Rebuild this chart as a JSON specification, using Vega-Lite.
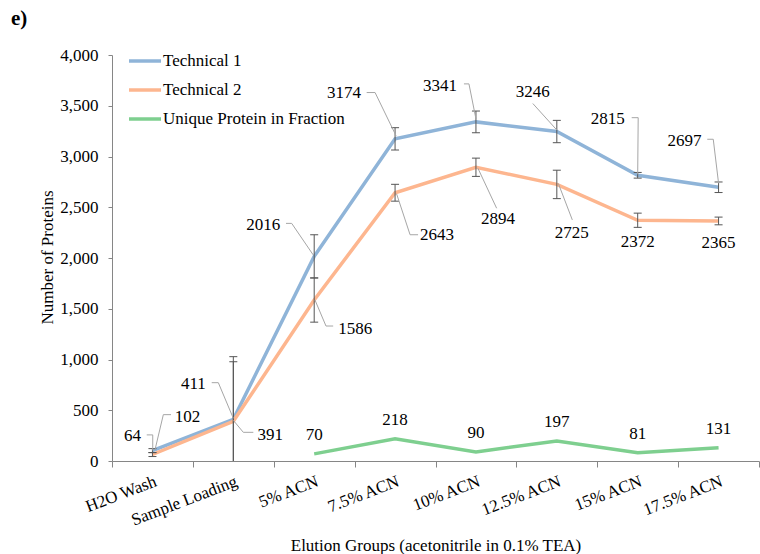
{
  "$schema": "https://vega.github.io/schema/vega-lite/v6.json",
  "width": 647,
  "height": 406,
  "autosize": "none",
  "padding": {"left": 112, "top": 55, "right": 1, "bottom": 93},
  "background": "white",
  "title": {"text": "e)", "anchor": "start", "frame": "group", "dx": -101, "dy": 30, "offset": 27, "baseline": "alphabetic", "fontSize": 21, "fontWeight": "bold", "font": "Liberation Serif", "color": "#000"},
  "config": {
    "font": "Liberation Serif",
    "view": {"stroke": null},
    "axis": {"labelFont": "Liberation Serif", "titleFont": "Liberation Serif"},
    "text": {"font": "Liberation Serif", "fontSize": 17, "baseline": "middle", "align": "center", "color": "#000"},
    "legend": {"orient": "none", "legendX": 15, "legendY": -12, "symbolType": "stroke", "symbolSize": 1024, "symbolStrokeWidth": 3.5, "labelFontSize": 17, "labelFont": "Liberation Serif", "labelColor": "#000", "labelOffset": 0, "rowPadding": 3, "labelLimit": 400}
  },
  "data": {"values": [
    {"id": "a0", "i": 0, "g": "H2O Wash", "s": "Technical 1", "v": 102, "lo": 82, "hi": 122},
    {"id": "a1", "i": 1, "g": "Sample Loading", "s": "Technical 1", "v": 411, "lo": -206, "hi": 1028},
    {"id": "a2", "i": 2, "g": "5% ACN", "s": "Technical 1", "v": 2016, "lo": 1803, "hi": 2229},
    {"id": "a3", "i": 3, "g": "7.5% ACN", "s": "Technical 1", "v": 3174, "lo": 3064, "hi": 3284},
    {"id": "a4", "i": 4, "g": "10% ACN", "s": "Technical 1", "v": 3341, "lo": 3234, "hi": 3448},
    {"id": "a5", "i": 5, "g": "12.5% ACN", "s": "Technical 1", "v": 3246, "lo": 3136, "hi": 3356},
    {"id": "a6", "i": 6, "g": "15% ACN", "s": "Technical 1", "v": 2815, "lo": 2787, "hi": 2843},
    {"id": "a7", "i": 7, "g": "17.5% ACN", "s": "Technical 1", "v": 2697, "lo": 2645, "hi": 2749},
    {"id": "b0", "i": 0, "g": "H2O Wash", "s": "Technical 2", "v": 64, "lo": 44, "hi": 84},
    {"id": "b1", "i": 1, "g": "Sample Loading", "s": "Technical 2", "v": 391, "lo": -196, "hi": 978},
    {"id": "b2", "i": 2, "g": "5% ACN", "s": "Technical 2", "v": 1586, "lo": 1368, "hi": 1804},
    {"id": "b3", "i": 3, "g": "7.5% ACN", "s": "Technical 2", "v": 2643, "lo": 2560, "hi": 2726},
    {"id": "b4", "i": 4, "g": "10% ACN", "s": "Technical 2", "v": 2894, "lo": 2804, "hi": 2984},
    {"id": "b5", "i": 5, "g": "12.5% ACN", "s": "Technical 2", "v": 2725, "lo": 2585, "hi": 2865},
    {"id": "b6", "i": 6, "g": "15% ACN", "s": "Technical 2", "v": 2372, "lo": 2302, "hi": 2442},
    {"id": "b7", "i": 7, "g": "17.5% ACN", "s": "Technical 2", "v": 2365, "lo": 2327, "hi": 2403},
    {"id": "c2", "i": 2, "g": "5% ACN", "s": "Unique Protein in Fraction", "v": 70},
    {"id": "c3", "i": 3, "g": "7.5% ACN", "s": "Unique Protein in Fraction", "v": 218},
    {"id": "c4", "i": 4, "g": "10% ACN", "s": "Unique Protein in Fraction", "v": 90},
    {"id": "c5", "i": 5, "g": "12.5% ACN", "s": "Unique Protein in Fraction", "v": 197},
    {"id": "c6", "i": 6, "g": "15% ACN", "s": "Unique Protein in Fraction", "v": 81},
    {"id": "c7", "i": 7, "g": "17.5% ACN", "s": "Unique Protein in Fraction", "v": 131}
  ]},
  "encoding": {
    "x": {"field": "i", "type": "quantitative", "scale": {"domain": [-0.5, 7.5], "nice": false, "zero": false},
      "axis": {"values": [-0.5, 0, 0.5, 1, 1.5, 2, 2.5, 3, 3.5, 4, 4.5, 5, 5.5, 6, 6.5, 7, 7.5],
        "labelExpr": "datum.value % 1 ? '' : ['H2O Wash','Sample Loading','5% ACN','7.5% ACN','10% ACN','12.5% ACN','15% ACN','17.5% ACN'][datum.value]",
        "labelAngle": -21, "labelAlign": "right", "labelBaseline": "top", "labelPadding": 6, "labelFontSize": 17, "labelFont": "Liberation Serif", "labelColor": "#000", "labelOverlap": false, "labelFlush": false, "labelBound": false,
        "tickSize": 6, "tickColor": "#868686", "tickOpacity": {"condition": {"test": "datum.value % 1 == 0", "value": 0}, "value": 1},
        "domainColor": "#868686", "grid": false,
        "title": "Elution Groups (acetonitrile in 0.1% TEA)", "titleY": 84, "titleBaseline": "middle", "titleFontWeight": "normal", "titleFontSize": 17, "titleFont": "Liberation Serif", "titleColor": "#000"}},
    "y": {"field": "v", "type": "quantitative", "scale": {"domain": [0, 4000], "nice": false},
      "axis": {"values": [0, 500, 1000, 1500, 2000, 2500, 3000, 3500, 4000], "format": ",d", "tickSize": 4, "tickColor": "#868686", "domainColor": "#868686", "labelPadding": 10, "labelFontSize": 17, "labelFont": "Liberation Serif", "labelColor": "#000", "grid": false,
        "title": "Number of Proteins", "titleX": -65, "titleY": 202, "titleBaseline": "middle", "titleAngle": -90, "titleFontWeight": "normal", "titleFontSize": 17, "titleFont": "Liberation Serif", "titleColor": "#000"}}
  },
  "layer": [
    {"mark": {"type": "line", "strokeWidth": 3.5},
      "encoding": {"color": {"field": "s", "type": "nominal", "title": null,
        "scale": {"domain": ["Technical 1", "Technical 2", "Unique Protein in Fraction"], "range": ["#8FB4D8", "#FDB68F", "#7ECF8F"]},
        "legend": {"labelFont": "Liberation Serif", "labelFontSize": 17, "labelColor": "#000"}},
        "order": {"field": "i", "type": "quantitative"}}},
    {"transform": [{"filter": "isValid(datum.lo)"}],
      "mark": {"type": "rule", "color": "#555555", "strokeWidth": 1, "clip": true},
      "encoding": {"y": {"field": "lo", "type": "quantitative"}, "y2": {"field": "hi"}}},
    {"transform": [{"filter": "isValid(datum.lo)"}],
      "mark": {"type": "tick", "orient": "horizontal", "color": "#555555", "thickness": 1, "size": 8, "clip": true, "opacity": 1},
      "encoding": {"y": {"field": "lo", "type": "quantitative"}}},
    {"transform": [{"filter": "isValid(datum.hi)"}],
      "mark": {"type": "tick", "orient": "horizontal", "color": "#555555", "thickness": 1, "size": 8, "clip": true, "opacity": 1},
      "encoding": {"y": {"field": "hi", "type": "quantitative"}}},
    {"transform": [{"filter": "datum.s == 'Unique Protein in Fraction'"}],
      "mark": {"type": "text", "dy": -19},
      "encoding": {"text": {"field": "v", "type": "quantitative", "format": "d"}}},
    {"transform": [{"filter": "datum.id == 'a0'"}], "layer": [
      {"mark": {"type": "text", "dx": 35, "dy": -34}, "encoding": {"text": {"field": "v", "type": "quantitative", "format": "d"}}},
      {"mark": {"type": "rule", "color": "#A6A6A6", "strokeWidth": 1, "xOffset": 10.9, "yOffset": -36, "x2Offset": 18.6, "y2Offset": -36}, "encoding": {"x2": {"field": "i"}, "y2": {"field": "v"}}},
      {"mark": {"type": "rule", "color": "#A6A6A6", "strokeWidth": 1, "xOffset": 10.9, "yOffset": -36, "x2Offset": 2.6, "y2Offset": -1}, "encoding": {"x2": {"field": "i"}, "y2": {"field": "v"}}}]},
    {"transform": [{"filter": "datum.id == 'b0'"}], "layer": [
      {"mark": {"type": "text", "dx": -20, "dy": -18.5}, "encoding": {"text": {"field": "v", "type": "quantitative", "format": "d"}}},
      {"mark": {"type": "rule", "color": "#A6A6A6", "strokeWidth": 1, "xOffset": -5.7, "yOffset": -19.6, "x2Offset": 0.3, "y2Offset": -19.6}, "encoding": {"x2": {"field": "i"}, "y2": {"field": "v"}}},
      {"mark": {"type": "rule", "color": "#A6A6A6", "strokeWidth": 1, "xOffset": 0.3, "yOffset": -19.6, "x2Offset": 0.3, "y2Offset": -4}, "encoding": {"x2": {"field": "i"}, "y2": {"field": "v"}}}]},
    {"transform": [{"filter": "datum.id == 'a1'"}], "layer": [
      {"mark": {"type": "text", "dx": -40, "dy": -35}, "encoding": {"text": {"field": "v", "type": "quantitative", "format": "d"}}},
      {"mark": {"type": "rule", "color": "#A6A6A6", "strokeWidth": 1, "xOffset": -21.6, "yOffset": -36.6, "x2Offset": -15, "y2Offset": -36.6}, "encoding": {"x2": {"field": "i"}, "y2": {"field": "v"}}},
      {"mark": {"type": "rule", "color": "#A6A6A6", "strokeWidth": 1, "xOffset": -15, "yOffset": -36.6, "x2Offset": 0, "y2Offset": -1}, "encoding": {"x2": {"field": "i"}, "y2": {"field": "v"}}}]},
    {"transform": [{"filter": "datum.id == 'b1'"}], "layer": [
      {"mark": {"type": "text", "dx": 37, "dy": 14}, "encoding": {"text": {"field": "v", "type": "quantitative", "format": "d"}}},
      {"mark": {"type": "rule", "color": "#A6A6A6", "strokeWidth": 1, "xOffset": 0, "yOffset": -1, "x2Offset": 10, "y2Offset": 11}, "encoding": {"x2": {"field": "i"}, "y2": {"field": "v"}}},
      {"mark": {"type": "rule", "color": "#A6A6A6", "strokeWidth": 1, "xOffset": 10, "yOffset": 11, "x2Offset": 20, "y2Offset": 11}, "encoding": {"x2": {"field": "i"}, "y2": {"field": "v"}}}]},
    {"transform": [{"filter": "datum.id == 'a2'"}], "layer": [
      {"mark": {"type": "text", "dx": -51, "dy": -31.5}, "encoding": {"text": {"field": "v", "type": "quantitative", "format": "d"}}},
      {"mark": {"type": "rule", "color": "#A6A6A6", "strokeWidth": 1, "xOffset": -28.2, "yOffset": -33, "x2Offset": -22.5, "y2Offset": -33}, "encoding": {"x2": {"field": "i"}, "y2": {"field": "v"}}},
      {"mark": {"type": "rule", "color": "#A6A6A6", "strokeWidth": 1, "xOffset": -22.5, "yOffset": -33, "x2Offset": -1, "y2Offset": -1.5}, "encoding": {"x2": {"field": "i"}, "y2": {"field": "v"}}}]},
    {"transform": [{"filter": "datum.id == 'b2'"}], "layer": [
      {"mark": {"type": "text", "dx": 41, "dy": 29}, "encoding": {"text": {"field": "v", "type": "quantitative", "format": "d"}}},
      {"mark": {"type": "rule", "color": "#A6A6A6", "strokeWidth": 1, "xOffset": 0.8, "yOffset": 0, "x2Offset": 11.8, "y2Offset": 26}, "encoding": {"x2": {"field": "i"}, "y2": {"field": "v"}}},
      {"mark": {"type": "rule", "color": "#A6A6A6", "strokeWidth": 1, "xOffset": 11.8, "yOffset": 26, "x2Offset": 19, "y2Offset": 26}, "encoding": {"x2": {"field": "i"}, "y2": {"field": "v"}}}]},
    {"transform": [{"filter": "datum.id == 'a3'"}], "layer": [
      {"mark": {"type": "text", "dx": -51, "dy": -46}, "encoding": {"text": {"field": "v", "type": "quantitative", "format": "d"}}},
      {"mark": {"type": "rule", "color": "#A6A6A6", "strokeWidth": 1, "xOffset": -28.4, "yOffset": -46.3, "x2Offset": -20, "y2Offset": -46.3}, "encoding": {"x2": {"field": "i"}, "y2": {"field": "v"}}},
      {"mark": {"type": "rule", "color": "#A6A6A6", "strokeWidth": 1, "xOffset": -20, "yOffset": -46.3, "x2Offset": 1, "y2Offset": -3}, "encoding": {"x2": {"field": "i"}, "y2": {"field": "v"}}}]},
    {"transform": [{"filter": "datum.id == 'b3'"}], "layer": [
      {"mark": {"type": "text", "dx": 42, "dy": 42}, "encoding": {"text": {"field": "v", "type": "quantitative", "format": "d"}}},
      {"mark": {"type": "rule", "color": "#A6A6A6", "strokeWidth": 1, "xOffset": 1.5, "yOffset": 1, "x2Offset": 15, "y2Offset": 42}, "encoding": {"x2": {"field": "i"}, "y2": {"field": "v"}}},
      {"mark": {"type": "rule", "color": "#A6A6A6", "strokeWidth": 1, "xOffset": 15, "yOffset": 42, "x2Offset": 23, "y2Offset": 42}, "encoding": {"x2": {"field": "i"}, "y2": {"field": "v"}}}]},
    {"transform": [{"filter": "datum.id == 'a4'"}], "layer": [
      {"mark": {"type": "text", "dx": -36, "dy": -36}, "encoding": {"text": {"field": "v", "type": "quantitative", "format": "d"}}},
      {"mark": {"type": "rule", "color": "#A6A6A6", "strokeWidth": 1, "xOffset": -12, "yOffset": -38, "x2Offset": -7, "y2Offset": -38}, "encoding": {"x2": {"field": "i"}, "y2": {"field": "v"}}},
      {"mark": {"type": "rule", "color": "#A6A6A6", "strokeWidth": 1, "xOffset": -7, "yOffset": -38, "x2Offset": 0, "y2Offset": -3}, "encoding": {"x2": {"field": "i"}, "y2": {"field": "v"}}}]},
    {"transform": [{"filter": "datum.id == 'b4'"}], "layer": [
      {"mark": {"type": "text", "dx": 22, "dy": 52}, "encoding": {"text": {"field": "v", "type": "quantitative", "format": "d"}}},
      {"mark": {"type": "rule", "color": "#A6A6A6", "strokeWidth": 1, "xOffset": 2, "yOffset": 1, "x2Offset": 20.7, "y2Offset": 41}, "encoding": {"x2": {"field": "i"}, "y2": {"field": "v"}}}]},
    {"transform": [{"filter": "datum.id == 'a5'"}], "layer": [
      {"mark": {"type": "text", "dx": -24, "dy": -39.5}, "encoding": {"text": {"field": "v", "type": "quantitative", "format": "d"}}},
      {"mark": {"type": "rule", "color": "#A6A6A6", "strokeWidth": 1, "xOffset": -24, "yOffset": -28, "x2Offset": 0, "y2Offset": -1.5}, "encoding": {"x2": {"field": "i"}, "y2": {"field": "v"}}}]},
    {"transform": [{"filter": "datum.id == 'b5'"}], "layer": [
      {"mark": {"type": "text", "dx": 15, "dy": 49}, "encoding": {"text": {"field": "v", "type": "quantitative", "format": "d"}}},
      {"mark": {"type": "rule", "color": "#A6A6A6", "strokeWidth": 1, "xOffset": 1.5, "yOffset": -1, "x2Offset": 15.5, "y2Offset": 35.5}, "encoding": {"x2": {"field": "i"}, "y2": {"field": "v"}}}]},
    {"transform": [{"filter": "datum.id == 'a6'"}], "layer": [
      {"mark": {"type": "text", "dx": -30, "dy": -56}, "encoding": {"text": {"field": "v", "type": "quantitative", "format": "d"}}},
      {"mark": {"type": "rule", "color": "#A6A6A6", "strokeWidth": 1, "xOffset": -6, "yOffset": -57.6, "x2Offset": 0.5, "y2Offset": -57.6}, "encoding": {"x2": {"field": "i"}, "y2": {"field": "v"}}},
      {"mark": {"type": "rule", "color": "#A6A6A6", "strokeWidth": 1, "xOffset": 0.5, "yOffset": -57.6, "x2Offset": 0, "y2Offset": -1}, "encoding": {"x2": {"field": "i"}, "y2": {"field": "v"}}}]},
    {"transform": [{"filter": "datum.id == 'b6'"}],
      "mark": {"type": "text", "dx": 0, "dy": 22}, "encoding": {"text": {"field": "v", "type": "quantitative", "format": "d"}}},
    {"transform": [{"filter": "datum.id == 'a7'"}], "layer": [
      {"mark": {"type": "text", "dx": -34, "dy": -46.5}, "encoding": {"text": {"field": "v", "type": "quantitative", "format": "d"}}},
      {"mark": {"type": "rule", "color": "#A6A6A6", "strokeWidth": 1, "xOffset": -11.3, "yOffset": -48, "x2Offset": -5.3, "y2Offset": -48}, "encoding": {"x2": {"field": "i"}, "y2": {"field": "v"}}},
      {"mark": {"type": "rule", "color": "#A6A6A6", "strokeWidth": 1, "xOffset": -5.3, "yOffset": -48, "x2Offset": 0, "y2Offset": -4}, "encoding": {"x2": {"field": "i"}, "y2": {"field": "v"}}}]},
    {"transform": [{"filter": "datum.id == 'b7'"}],
      "mark": {"type": "text", "dx": 0, "dy": 21.6}, "encoding": {"text": {"field": "v", "type": "quantitative", "format": "d"}}}
  ]
}
